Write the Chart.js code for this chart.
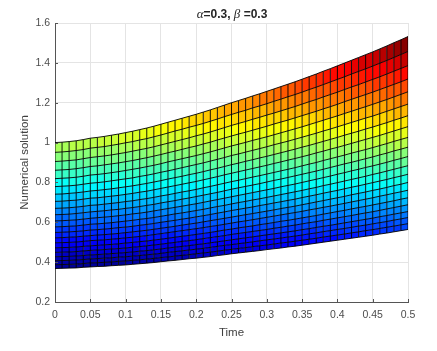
<!DOCTYPE html>
<html>
<head>
<meta charset="utf-8">
<style>
    html, body { margin: 0; padding: 0; background: #fff; }
    #wrap { position: relative; width: 437px; height: 351px; }
    #title { position: absolute; left: 0; top: 6px; width: 464px; text-align: center;
             font: bold 12px "Liberation Sans", Arial, sans-serif; color: #262626; }
    #title i { font: italic 13px "Liberation Serif", serif; }
</style>
<script src="https://cdn.jsdelivr.net/npm/chart.js@4"></script>
</head>
<body>
<div id="wrap">
    <canvas id="surfaceChart" width="437" height="351"></canvas>
    <div id="title"><i>α</i>=0.3, <i>β</i> =0.3</div>
</div>
<script>
const xTickLabels = ['0', '0.05', '0.1', '0.15', '0.2', '0.25', '0.3', '0.35', '0.4', '0.45', '0.5'];
const yTickLabels = ['0.2', '0.4', '0.6', '0.8', '1', '1.2', '1.4', '1.6'];

const time = [0, .01, .02, .03, .04, .05, .06, .07, .08, .09, .1, .11, .12, .13, .14, .15, .16, .17, .18, .19, .2, .21, .22, .23, .24, .25,
    .26, .27, .28, .29, .3, .31, .32, .33, .34, .35, .36, .37, .38, .39, .4, .41, .42, .43, .44, .45, .46, .47, .48, .49, .5];

// 每一條網格線的數值（由上到下）
const row00 = [1.000,1.002,1.005,1.009,1.015,1.022,1.026,1.031,1.037,1.043,1.050,1.057,1.065,1.073,1.082,1.092,1.102,1.112,1.122,1.132,1.142,1.153,1.164,1.176,1.188,1.200,1.211,1.222,1.234,1.245,1.257,1.269,1.281,1.293,1.305,1.318,1.331,1.344,1.358,1.371,1.385,1.399,1.413,1.427,1.441,1.455,1.470,1.485,1.501,1.516,1.532];
const row01 = [.951,.953,.956,.960,.965,.972,.976,.980,.986,.992,.999,1.005,1.013,1.020,1.029,1.038,1.048,1.058,1.067,1.077,1.086,1.096,1.107,1.118,1.130,1.141,1.152,1.162,1.174,1.184,1.195,1.207,1.218,1.230,1.241,1.253,1.266,1.278,1.291,1.304,1.317,1.330,1.344,1.357,1.370,1.384,1.398,1.412,1.427,1.442,1.457];
const row02 = [.905,.907,.910,.913,.919,.925,.929,.933,.938,.944,.950,.957,.964,.971,.979,.988,.997,1.006,1.015,1.024,1.034,1.043,1.053,1.064,1.075,1.086,1.096,1.106,1.117,1.127,1.138,1.148,1.159,1.170,1.181,1.193,1.205,1.216,1.229,1.241,1.253,1.266,1.279,1.291,1.304,1.317,1.330,1.344,1.358,1.372,1.386];
const row03 = [.861,.863,.865,.869,.874,.880,.883,.888,.893,.898,.904,.910,.917,.924,.932,.940,.949,.957,.966,.975,.983,.993,1.002,1.013,1.023,1.033,1.043,1.052,1.062,1.072,1.082,1.093,1.103,1.113,1.124,1.135,1.146,1.157,1.169,1.180,1.192,1.205,1.217,1.229,1.241,1.253,1.266,1.279,1.292,1.305,1.319];
const row04 = [.819,.821,.823,.826,.831,.837,.840,.844,.849,.854,.860,.866,.872,.879,.886,.894,.903,.911,.919,.927,.935,.944,.953,.963,.973,.983,.992,1.001,1.011,1.020,1.029,1.039,1.049,1.059,1.069,1.079,1.090,1.101,1.112,1.123,1.134,1.146,1.157,1.169,1.180,1.192,1.204,1.216,1.229,1.242,1.255];
const row05 = [.779,.781,.783,.786,.791,.796,.799,.803,.808,.813,.818,.823,.830,.836,.843,.851,.858,.866,.874,.882,.890,.898,.907,.916,.925,.935,.943,.952,.961,.970,.979,.989,.998,1.007,1.017,1.027,1.037,1.047,1.058,1.068,1.079,1.090,1.101,1.112,1.123,1.133,1.145,1.157,1.169,1.181,1.193];
const row06 = [.741,.742,.745,.748,.752,.757,.760,.764,.768,.773,.778,.783,.789,.795,.802,.809,.817,.824,.831,.839,.846,.854,.863,.871,.880,.889,.897,.906,.914,.923,.931,.940,.949,.958,.967,.977,.986,.996,1.006,1.016,1.026,1.037,1.047,1.057,1.068,1.078,1.089,1.100,1.112,1.123,1.135];
const row07 = [.705,.706,.709,.711,.716,.721,.723,.727,.731,.735,.740,.745,.751,.756,.763,.770,.777,.784,.791,.798,.805,.813,.821,.829,.838,.846,.854,.862,.870,.878,.886,.895,.903,.912,.920,.929,.938,.948,.957,.967,.976,.986,.996,1.006,1.016,1.026,1.036,1.047,1.058,1.069,1.080];
const row08 = [.670,.671,.673,.676,.680,.685,.687,.691,.695,.699,.704,.708,.714,.719,.725,.732,.738,.745,.752,.758,.765,.773,.780,.788,.796,.804,.811,.819,.827,.834,.842,.850,.858,.866,.874,.883,.892,.900,.910,.919,.928,.937,.947,.956,.965,.975,.985,.995,1.006,1.016,1.026];
const row09 = [.638,.639,.641,.644,.648,.652,.655,.658,.662,.665,.670,.674,.679,.685,.690,.697,.703,.709,.716,.722,.729,.736,.743,.750,.758,.766,.773,.780,.787,.794,.802,.810,.817,.825,.833,.841,.849,.857,.866,.875,.884,.893,.901,.910,.919,.928,.938,.947,.958,.967,.977];
const row10 = [.607,.608,.610,.612,.616,.620,.623,.626,.629,.633,.637,.642,.646,.651,.657,.663,.669,.675,.681,.687,.693,.700,.707,.714,.721,.728,.735,.742,.749,.756,.763,.770,.778,.785,.792,.800,.808,.816,.824,.832,.841,.849,.858,.866,.875,.883,.892,.901,.911,.920,.930];
const row11 = [.577,.578,.580,.582,.586,.590,.592,.595,.598,.602,.606,.610,.615,.619,.624,.630,.636,.642,.647,.653,.659,.665,.672,.679,.685,.692,.699,.705,.712,.718,.725,.732,.739,.746,.753,.760,.768,.775,.784,.791,.799,.807,.815,.823,.831,.840,.848,.857,.866,.875,.884];
const row12 = [.549,.550,.552,.554,.557,.561,.563,.566,.569,.573,.576,.580,.585,.589,.594,.600,.605,.610,.616,.621,.627,.633,.639,.646,.652,.659,.665,.671,.677,.684,.690,.697,.703,.710,.716,.724,.731,.738,.746,.753,.760,.768,.776,.783,.791,.799,.807,.815,.824,.832,.841];
const row13 = [.522,.523,.525,.527,.530,.533,.536,.538,.541,.544,.548,.552,.556,.560,.565,.570,.575,.580,.586,.591,.596,.602,.608,.614,.620,.626,.632,.638,.644,.650,.656,.662,.669,.675,.681,.688,.695,.702,.709,.716,.723,.730,.738,.745,.752,.760,.767,.775,.784,.791,.800];
const row14 = [.497,.498,.499,.501,.504,.508,.510,.512,.515,.518,.522,.525,.529,.533,.538,.543,.548,.553,.558,.563,.568,.573,.579,.584,.590,.596,.602,.607,.613,.619,.625,.631,.637,.643,.649,.655,.662,.668,.675,.681,.688,.695,.702,.709,.716,.723,.731,.738,.746,.753,.761];
const row15 = [.472,.473,.474,.476,.479,.482,.484,.487,.489,.492,.496,.499,.503,.506,.511,.515,.520,.525,.530,.534,.539,.544,.549,.555,.561,.566,.572,.577,.582,.588,.593,.599,.605,.610,.616,.622,.628,.634,.641,.647,.654,.660,.667,.674,.680,.687,.694,.701,.708,.716,.723];
const row16 = [.449,.450,.451,.453,.456,.459,.461,.463,.466,.468,.471,.475,.478,.482,.486,.490,.495,.499,.504,.508,.513,.518,.523,.528,.533,.539,.544,.549,.554,.559,.564,.570,.575,.581,.586,.592,.598,.603,.610,.616,.622,.628,.634,.641,.647,.653,.660,.667,.674,.681,.688];
const row17 = [.427,.428,.429,.431,.433,.436,.438,.440,.443,.445,.448,.451,.455,.458,.462,.466,.471,.475,.479,.483,.488,.492,.497,.502,.507,.512,.517,.522,.527,.532,.537,.542,.547,.552,.557,.563,.568,.574,.580,.585,.591,.597,.603,.609,.615,.621,.628,.634,.641,.647,.654];
const row18 = [.407,.408,.409,.411,.413,.416,.418,.420,.422,.425,.427,.430,.433,.437,.440,.444,.449,.453,.457,.461,.465,.469,.474,.479,.484,.488,.493,.497,.502,.507,.512,.516,.521,.526,.531,.536,.542,.547,.553,.558,.564,.569,.575,.581,.586,.592,.598,.604,.611,.617,.624];
const row19 = [.387,.388,.389,.390,.393,.396,.397,.399,.401,.404,.406,.409,.412,.415,.419,.423,.426,.430,.434,.438,.442,.446,.450,.455,.460,.464,.469,.473,.478,.482,.486,.491,.496,.500,.505,.510,.515,.520,.526,.531,.536,.541,.547,.552,.558,.563,.569,.575,.581,.587,.593];
const row20 = [.368,.369,.370,.371,.374,.376,.378,.379,.382,.384,.386,.389,.392,.395,.398,.402,.406,.409,.413,.417,.420,.424,.428,.433,.437,.442,.446,.450,.454,.458,.463,.467,.471,.476,.480,.485,.490,.495,.500,.505,.510,.515,.520,.525,.530,.535,.541,.546,.552,.558,.564];

const rows = [row00, row01, row02, row03, row04, row05, row06, row07, row08, row09, row10,
    row11, row12, row13, row14, row15, row16, row17, row18, row19, row20];

const colorMin = 0.368;
const colorMax = 1.532;

// jet 色階（64 階）
function jetColor(value) {
    const level = Math.min(63, Math.floor((value - colorMin) / (colorMax - colorMin) * 64));
    const p = (level + 0.5) / 64;
    const channel = (center) => Math.round(255 * Math.max(0, Math.min(1, 1.5 - Math.abs(4 * p - center))));
    return `rgb(${channel(3)},${channel(2)},${channel(1)})`;
}

const rowDatasets = rows.map((row, r) => ({
    data: row.map((y, i) => ({ x: time[i], y: y })),
    borderColor: 'rgba(0,0,0,0.9)',
    borderWidth: 1,
    pointRadius: 0,
    tension: 0,
    fill: r === 0 ? false : '-1',
    segment: r === 0 ? undefined : {
        // 每格顏色取上緣的值
        backgroundColor: (ctx) => jetColor(rows[r - 1][ctx.p0DataIndex])
    }
}));

// 縱向網格線
const columnDatasets = time.map((t, i) => ({
    data: [{ x: t, y: row20[i] }, { x: t, y: row00[i] }],
    borderColor: 'rgba(0,0,0,0.9)',
    borderWidth: 1,
    pointRadius: 0,
    fill: false,
    order: -1
}));

// 刻度線朝內（MATLAB 風格）
const inwardTicks = {
    id: 'inwardTicks',
    afterDatasetsDraw(chart) {
        const { ctx, scales: { x, y } } = chart;
        ctx.save();
        ctx.strokeStyle = '#555';
        ctx.lineWidth = 1;
        ctx.beginPath();
        x.ticks.forEach((tick) => {
            const px = Math.round(x.getPixelForValue(tick.value)) + 0.5;
            ctx.moveTo(px, y.bottom);
            ctx.lineTo(px, y.bottom - 3);
        });
        y.ticks.forEach((tick) => {
            const py = Math.round(y.getPixelForValue(tick.value)) + 0.5;
            ctx.moveTo(x.left, py);
            ctx.lineTo(x.left + 3, py);
        });
        ctx.stroke();
        ctx.restore();
    }
};

const tickFont = { family: '"Liberation Sans", Arial, sans-serif', size: 10.5 };

new Chart(document.getElementById('surfaceChart').getContext('2d'), {
    type: 'line',
    data: { datasets: rowDatasets.concat(columnDatasets) },
    plugins: [inwardTicks],
    options: {
        responsive: false,
        animation: false,
        layout: { padding: { top: 23, right: 29, left: 0, bottom: 0 } },
        plugins: { legend: { display: false }, title: { display: false }, tooltip: { enabled: false } },
        scales: {
            x: {
                type: 'linear',
                min: 0,
                max: 0.5,
                afterFit(scale) { scale.height = 49; },
                border: { color: '#555', width: 1 },
                grid: { color: '#e4e4e4', drawTicks: false },
                ticks: {
                    stepSize: 0.05,
                    padding: 7,
                    maxRotation: 0,
                    autoSkip: false,
                    color: '#4d4d4d',
                    font: tickFont,
                    callback: (value, index) => xTickLabels[index]
                },
                title: { display: true, text: 'Time', color: '#404040', padding: { top: 0, bottom: 11 },
                    font: { family: tickFont.family, size: 11.5 } }
            },
            y: {
                min: 0.2,
                max: 1.6,
                afterFit(scale) { scale.width = 55; },
                border: { color: '#555', width: 1 },
                grid: { color: '#e4e4e4', drawTicks: false },
                ticks: {
                    stepSize: 0.2,
                    padding: 5,
                    autoSkip: false,
                    color: '#4d4d4d',
                    font: tickFont,
                    callback: (value, index) => yTickLabels[index]
                },
                title: { display: true, text: 'Numerical solution', color: '#404040', padding: { top: 18, bottom: 0 },
                    font: { family: tickFont.family, size: 11.5 } }
            }
        }
    }
});
</script>
</body>
</html>
